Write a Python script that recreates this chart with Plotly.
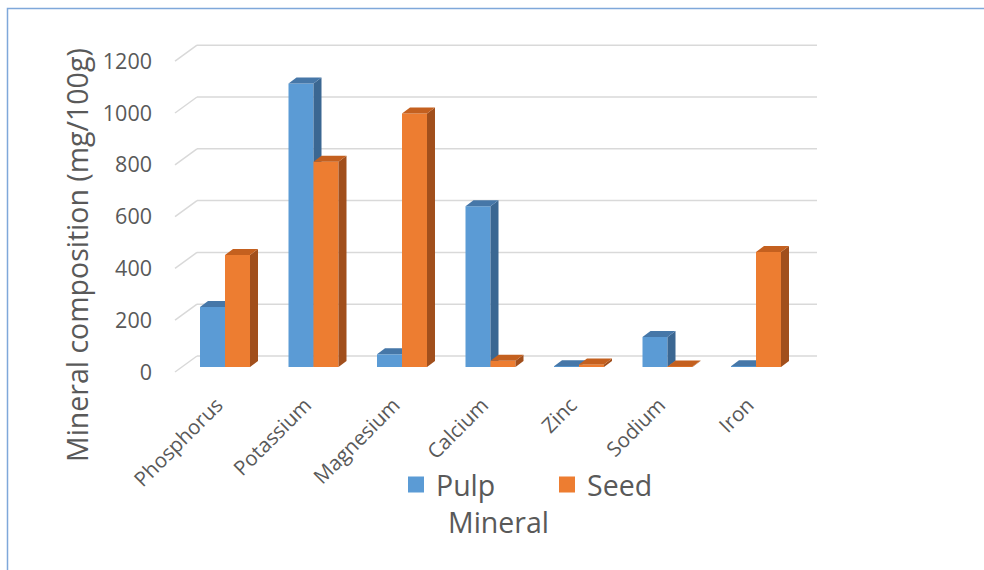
import plotly.graph_objects as go

# ---- data ----
minerals = ["Phosphorus", "Potassium", "Magnesium", "Calcium", "Zinc", "Sodium", "Iron"]
pulp = [232, 1095, 49, 621, 3, 116, 3]
seed = [432, 792, 979, 24, 10, 2, 444]
y_ticks = [0, 200, 400, 600, 800, 1000, 1200]

# ---- layout geometry (pixels) ----
W, H = 984, 570
def px(xp): return xp / W
def py(yp): return (H - yp) / H

S = 0.259          # px per unit
Y0 = 367           # pixel row of value 0 at bar front
YTOP, YBOT = 20, 388
XL, XR = 160, 984
PITCH = 88.5
C0 = 225
yr = [(Y0 - YBOT) / S, (Y0 - YTOP) / S]
xr = [(XL - C0) / PITCH, (XR - C0) / PITCH]
BW = 25 / PITCH
DX = 8 / PITCH
DY = 6 / S

TXT = "#595959"
FONT = "Open Sans"
colors = {
    "Pulp": ("#5B9BD5", "#4677A8", "#3B6792"),
    "Seed": ("#ED7D31", "#C4601F", "#A14F1C"),
}

fig = go.Figure()
xs = list(range(len(minerals)))

def faces(vals, left_off):
    top_x, top_y, side_x, side_y = [], [], [], []
    for i, v in zip(xs, vals):
        xl = i + left_off
        xrr = xl + BW
        top_x += [xl, xrr, xrr + DX, xl + DX, xl, None]
        top_y += [v, v, v + DY, v + DY, v, None]
        side_x += [xrr, xrr, xrr + DX, xrr + DX, xrr, None]
        side_y += [0, v, v + DY, DY, 0, None]
    return top_x, top_y, side_x, side_y

for name, vals, off, xa, ya in [
        ("Pulp", pulp, -BW, "x", "y"),
        ("Seed", seed, 0.0, "x2", "y2")]:
    front, top, side = colors[name]
    fig.add_trace(go.Bar(
        x=xs, y=vals, name=name, width=BW, offset=off, showlegend=False,
        marker=dict(color=front, line=dict(width=0)),
        xaxis=xa, yaxis=ya, hoverinfo="skip"))
    tx, ty, sx, sy = faces(vals, off)
    fig.add_trace(go.Scatter(x=sx, y=sy, mode="lines", fill="toself",
                             fillcolor=side, line=dict(width=0, color=side),
                             showlegend=False, xaxis=xa, yaxis=ya, hoverinfo="skip"))
    fig.add_trace(go.Scatter(x=tx, y=ty, mode="lines", fill="toself",
                             fillcolor=top, line=dict(width=0, color=top),
                             showlegend=False, xaxis=xa, yaxis=ya, hoverinfo="skip"))
    # legend entry (square swatch)
    fig.add_trace(go.Scatter(x=[None], y=[None], mode="markers", name=name,
                             marker=dict(symbol="square", size=16, color=front),
                             xaxis=xa, yaxis=ya, hoverinfo="skip"))

# gridlines on back wall + floor diagonals
shapes = []
for v in y_ticks:
    shapes.append(dict(type="line", xref="paper", yref="y", layer="below",
                       x0=px(197), x1=px(817), y0=v + 11 / S, y1=v + 11 / S,
                       line=dict(color="#D9D9D9", width=1.5)))
    shapes.append(dict(type="line", xref="paper", yref="y", layer="below",
                       x0=px(175), x1=px(197), y0=v - 5 / S, y1=v + 11 / S,
                       line=dict(color="#D9D9D9", width=1.5)))
# chart frame
shapes.append(dict(type="rect", xref="paper", yref="paper",
                   x0=px(7.5), x1=px(1000), y0=py(8.5), y1=py(600),
                   line=dict(color="#7FA8DA", width=1.5)))

axis_common = dict(showgrid=False, zeroline=False, showline=False, automargin=False)
fig.update_layout(
    width=W, height=H,
    margin=dict(l=0, r=0, t=0, b=0, autoexpand=False),
    paper_bgcolor="white", plot_bgcolor="rgba(0,0,0,0)",
    font=dict(family=FONT, color=TXT),
    showlegend=True,
    xaxis=dict(domain=[px(XL), px(XR)], range=xr, tickmode="array",
               tickvals=xs, ticktext=minerals, tickangle=-45, ticks="",
               ticklabelshift=-8,
               tickfont=dict(size=20.5, color=TXT), **axis_common),
    yaxis=dict(domain=[py(YBOT), py(YTOP)], range=yr, tickmode="array",
               tickvals=y_ticks, ticks="", ticklabelshift=5, ticklabelstandoff=7,
               tickfont=dict(size=21.5, color=TXT), **axis_common),
    xaxis2=dict(domain=[px(XL), px(XR)], range=xr, overlaying="x",
                visible=False, **axis_common),
    yaxis2=dict(domain=[py(YBOT), py(YTOP)], range=yr, overlaying="y",
                visible=False, **axis_common),
    shapes=shapes,
    legend=dict(orientation="h", x=px(547), xanchor="center", y=py(485),
                yanchor="middle", font=dict(size=28.5, color=TXT),
                entrywidth=106, entrywidthmode="pixels", bgcolor="rgba(0,0,0,0)"),
    annotations=[
        dict(text="Mineral composition (mg/100g)", xref="paper", yref="paper",
             x=px(77), y=py(255), xanchor="center", yanchor="middle",
             textangle=-90, showarrow=False, font=dict(size=28.5, color=TXT)),
        dict(text="Mineral", xref="paper", yref="paper", x=px(498), y=py(522),
             xanchor="center", yanchor="middle",
             showarrow=False, font=dict(size=28.5, color=TXT)),
    ],
)

fig.write_html("out.html", config={"displayModeBar": False},
               post_script="document.body.style.margin='0px';")
